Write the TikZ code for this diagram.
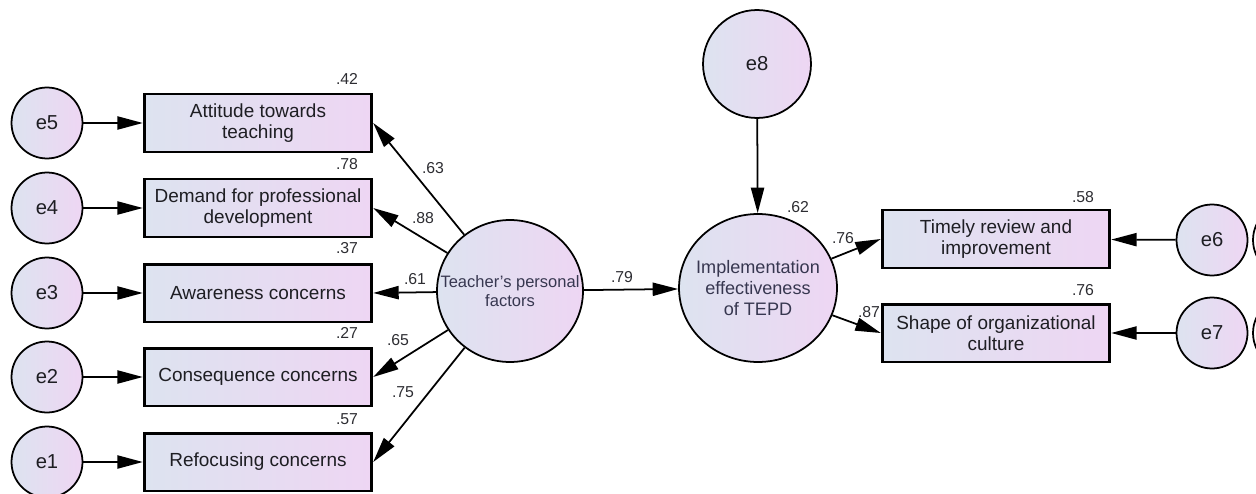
\documentclass[tikz,border=0pt]{standalone}
\usepackage{fontspec}
\setmainfont{Liberation Sans}
\usepackage{xcolor}
\usepackage{tikz}
\usetikzlibrary{positioning,arrows.meta,shapes.geometric}

\definecolor{fillL}{RGB}{221,227,240}
\definecolor{fillR}{RGB}{238,214,243}
\definecolor{boxtext}{RGB}{30,30,35}
\definecolor{lattext}{RGB}{55,55,80}
\definecolor{numtext}{RGB}{45,45,50}

\begin{document}
\begin{tikzpicture}[
    x=0.02cm, y=-0.02cm,
    obs/.style={rectangle, draw, line width=1.7pt, left color=fillL, right color=fillR, minimum width=4.55cm, minimum height=1.16cm, align=center, text=boxtext, font=\fontsize{10.8}{12}\selectfont},
    err/.style={circle, draw, line width=1pt, left color=fillL, right color=fillR, minimum size=1.42cm, inner sep=0pt, text=boxtext, font=\fontsize{11.5}{12}\selectfont},
    latent/.style={ellipse, draw, line width=1pt, left color=fillL, right color=fillR, inner sep=0pt},
    lattxt/.style={align=center, text=lattext, inner sep=0pt},
    num/.style={inner sep=0pt, text=numtext, font=\fontsize{9}{10}\selectfont},
    arrow/.style={-{Triangle[length=14.5pt,width=7.5pt]}, line width=1pt}
]
    \useasboundingbox (0,0) rectangle (1256,493);

    % left block: indicators of teacher's personal factors
    \node[err] (e5) at (47,123) {e5};
    \node[err] (e4) at (47,208) {e4};
    \node[err] (e3) at (47,293) {e3};
    \node[err] (e2) at (47,377) {e2};
    \node[err] (e1) at (47,462) {e1};

    \node[obs] (att) at (258,123) {Attitude towards\\teaching};
    \node[obs] (dem) at (258,208) {Demand for professional\\development};
    \node[obs] (awa) at (258,293) {Awareness concerns};
    \node[obs] (con) at (258,377) {Consequence concerns};
    \node[obs] (ref) at (258,462) {Refocusing concerns};

    \node[num] (r5) at (347,79) {.42};
    \node[num] (r4) at (347,164) {.78};
    \node[num] (r3) at (347,248) {.37};
    \node[num] (r2) at (347,333) {.27};
    \node[num] (r1) at (347,419) {.57};

    \node[latent, minimum width=2.92cm, minimum height=2.84cm,
        label={[lattxt, font=\fontsize{9.4}{11}\selectfont]center:Teacher's personal\\factors}] (tpf) at (510,291) {};

    % right block
    \node[err, minimum size=2.16cm] (e8) at (757,64) {e8};
    \node[latent, minimum width=3.16cm, minimum height=2.96cm,
        label={[lattxt, font=\fontsize{10.3}{11.8}\selectfont]center:Implementation\\effectiveness\\of TEPD}] (impl) at (758,288) {};
    \node[num] (r8) at (798,207) {.62};

    \node[obs] (tim) at (996,239) {Timely review and\\improvement};
    \node[obs] (sha) at (996,333) {Shape of organizational\\culture};
    \node[err] (e6) at (1212,240) {e6};
    \node[err] (e7) at (1212,333) {e7};
    \node[num] (r6) at (1083,197) {.58};
    \node[num] (r7) at (1083,290) {.76};

    % cut-off circles at the right edge
    \begin{scope}
        \clip (0,0) rectangle (1256,493);
        \draw[line width=1pt] (1289,240) circle[radius=0.72cm];
        \draw[line width=1pt] (1289,333) circle[radius=0.72cm];
    \end{scope}

    % error terms
    \draw[arrow] (e5) -- (att);
    \draw[arrow] (e4) -- (dem);
    \draw[arrow] (e3) -- (awa);
    \draw[arrow] (e2) -- (con);
    \draw[arrow] (e1) -- (ref);
    \draw[arrow] (e8) -- (impl);
    \draw[arrow] (e6) -- (tim);
    \draw[arrow] (e7) -- (sha);

    % loadings
    \draw[arrow] (tpf) -- (att.east);
    \draw[arrow] (tpf) -- (dem.east);
    \draw[arrow] (tpf) -- (awa.east);
    \draw[arrow] (tpf) -- (con.east);
    \draw[arrow] (tpf) -- (ref.east);
    \draw[arrow] (tpf) -- (impl);
    \draw[arrow] (impl) -- (tim.west);
    \draw[arrow] (impl) -- (sha.west);

    \node[num] (w5) at (433,168) {.63};
    \node[num] (w4) at (423,218) {.88};
    \node[num] (w3) at (415,279) {.61};
    \node[num] (w2) at (398,340) {.65};
    \node[num] (w1) at (403,392) {.75};
    \node[num] (w0) at (622,277) {.79};
    \node[num] (w6) at (843,238) {.76};
    \node[num] (w7) at (869,312) {.87};
\end{tikzpicture}
\end{document}
